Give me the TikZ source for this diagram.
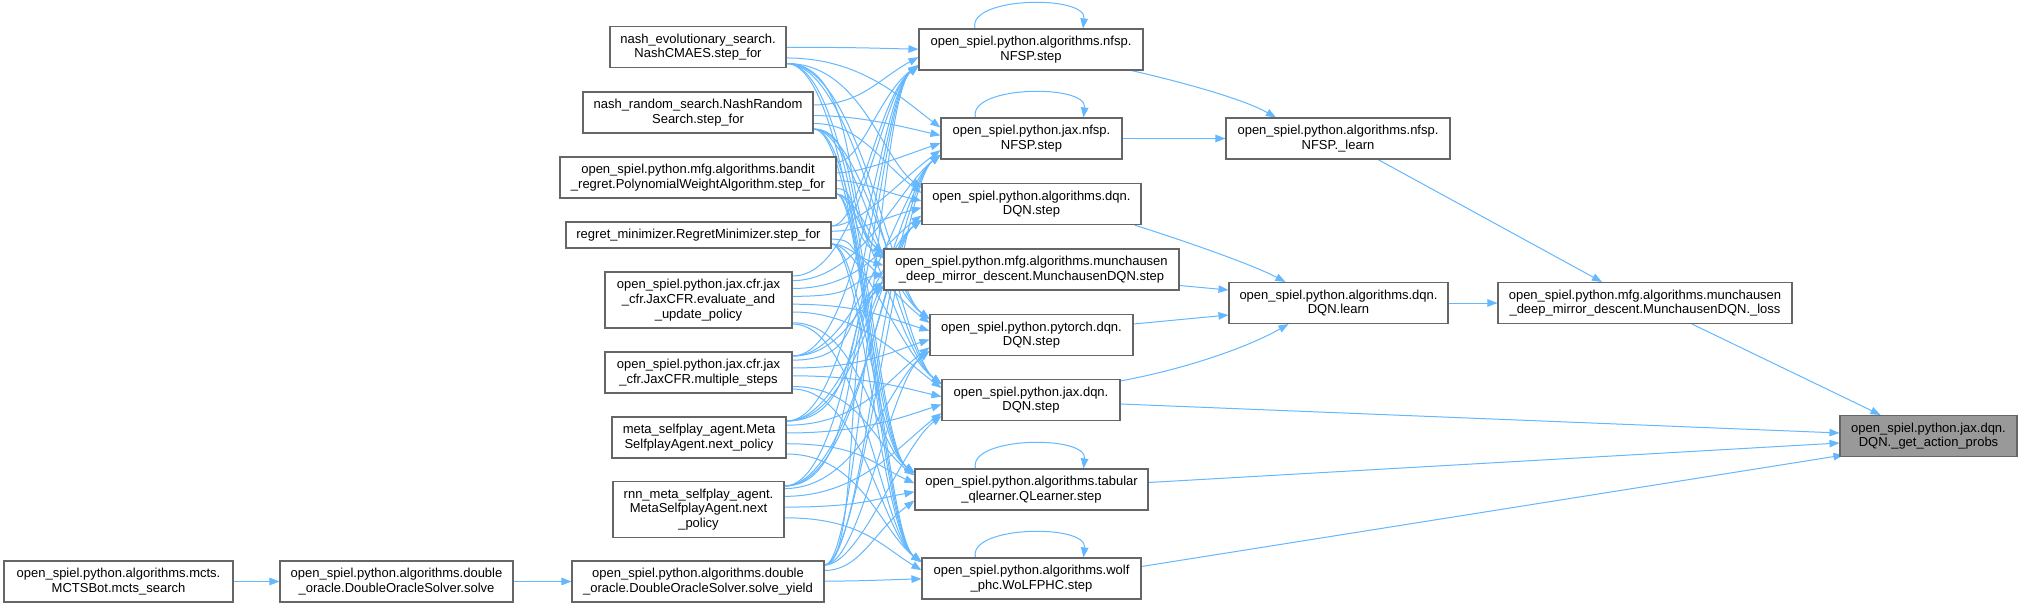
\documentclass[tikz,border=0pt]{standalone}
\usepackage{fontspec}
\setmainfont{Liberation Sans}
\usetikzlibrary{arrows.meta,calc}
\definecolor{edgeblue}{HTML}{63B8FF}
\definecolor{boxgray}{HTML}{666666}
\definecolor{tgfill}{HTML}{999999}
\pgfdeclarelayer{bg}
\pgfdeclarelayer{edgelayer}
\pgfsetlayers{bg,edgelayer,main}
\tikzset{
  fn/.style={rectangle, draw=boxgray, fill=white, line width=1.1pt, align=center,
    font=\fontsize{13}{14.7}\selectfont, inner xsep=2pt, inner ysep=0pt},
  one/.style={minimum height=26pt},
  two/.style={minimum height=41pt},
  three/.style={minimum height=56pt},
  edge/.style={draw=edgeblue, line width=1pt, -{Triangle[length=10pt,width=7.5pt]}},
}
\begin{document}
\begin{tikzpicture}[x=1pt,y=-1pt]
\begin{pgfonlayer}{bg}
\fill[white] (0,0) rectangle (2022,607);
\end{pgfonlayer}
\useasboundingbox (0,0) rectangle (2022,607);
% left column
\node[fn,two,minimum width=176pt] (ne) at (698,47) {nash\_evolutionary\_search.\\NashCMAES.step\_for};
\node[fn,two,minimum width=230pt] (nr) at (698,112.5) {nash\_random\_search.NashRandom\\Search.step\_for};
\node[fn,two,minimum width=276pt] (bd) at (698,177.5) {open\_spiel.python.mfg.algorithms.bandit\\\_regret.PolynomialWeightAlgorithm.step\_for};
\node[fn,one,minimum width=265pt] (rm) at (698.5,235) {regret\_minimizer.RegretMinimizer.step\_for};
\node[fn,three,minimum width=187pt] (ce) at (698.5,300) {open\_spiel.python.jax.cfr.jax\\\_cfr.JaxCFR.evaluate\_and\\\_update\_policy};
\node[fn,two,minimum width=187pt] (cm) at (698.5,372.5) {open\_spiel.python.jax.cfr.jax\\\_cfr.JaxCFR.multiple\_steps};
\node[fn,two,minimum width=174pt] (ms) at (699,437.5) {meta\_selfplay\_agent.Meta\\SelfplayAgent.next\_policy};
\node[fn,three,minimum width=171pt] (rn) at (698.5,509.5) {rnn\_meta\_selfplay\_agent.\\MetaSelfplayAgent.next\\\_policy};
\node[fn,two,minimum width=252pt] (sy) at (698,581.5) {open\_spiel.python.algorithms.double\\\_oracle.DoubleOracleSolver.solve\_yield};
\node[fn,two,minimum width=229pt] (mc) at (118.5,581.5) {open\_spiel.python.algorithms.mcts.\\MCTSBot.mcts\_search};
\node[fn,two,minimum width=233pt] (sv) at (396.5,581.5) {open\_spiel.python.algorithms.double\\\_oracle.DoubleOracleSolver.solve};
% middle column
\node[fn,two,minimum width=224pt] (nf) at (1031,49.5) {open\_spiel.python.algorithms.nfsp.\\NFSP.step};
\node[fn,two,minimum width=181pt] (jn) at (1031.5,138.5) {open\_spiel.python.jax.nfsp.\\NFSP.step};
\node[fn,two,minimum width=219pt] (dq) at (1031.5,204) {open\_spiel.python.algorithms.dqn.\\DQN.step};
\node[fn,two,minimum width=295pt] (md) at (1031.5,269.5) {open\_spiel.python.mfg.algorithms.munchausen\\\_deep\_mirror\_descent.MunchausenDQN.step};
\node[fn,two,minimum width=203pt] (pd) at (1031.5,335) {open\_spiel.python.pytorch.dqn.\\DQN.step};
\node[fn,two,minimum width=178pt] (jd) at (1031,400) {open\_spiel.python.jax.dqn.\\DQN.step};
\node[fn,two,minimum width=233pt] (tb) at (1031.5,489.5) {open\_spiel.python.algorithms.tabular\\\_qlearner.QLearner.step};
\node[fn,two,minimum width=219pt] (wf) at (1031.5,578.5) {open\_spiel.python.algorithms.wolf\\\_phc.WoLFPHC.step};
% right columns
\node[fn,two,minimum width=224pt] (nl) at (1338,138.5) {open\_spiel.python.algorithms.nfsp.\\NFSP.\_learn};
\node[fn,two,minimum width=219pt] (dl) at (1338.5,303) {open\_spiel.python.algorithms.dqn.\\DQN.learn};
\node[fn,two,minimum width=294pt] (lo) at (1645,303) {open\_spiel.python.mfg.algorithms.munchausen\\\_deep\_mirror\_descent.MunchausenDQN.\_loss};
\node[fn,two,minimum width=177pt,fill=tgfill] (tg) at (1928.5,436) {open\_spiel.python.jax.dqn.\\DQN.\_get\_action\_probs};

\begin{pgfonlayer}{edgelayer}
% bipartite callers -> step methods
\foreach \L/\xr/\yl/\hl in {ne/786/47/20.5, nr/813/112.5/20.5, bd/836/177.5/20.5, rm/831/235/13, ce/792/300/28, cm/792/372.5/20.5, ms/786/437.5/20.5, rn/784/509.5/27.5, sy/824/581.5/20.5}{
  \foreach \M/\xl/\ym/\hm in {nf/919/49.5/20.5, jn/941/138.5/20.5, dq/922/204/20, md/884/269.5/20.5, pd/930/335/20, jd/942/400/20, tb/915/489.5/20.5, wf/922/578.5/20.5}{
    \pgfmathsetmacro\ds{max(-\hl+4,min(\hl-4,0.12*(\ym-\yl)))}
    \pgfmathsetmacro\de{max(-\hm+4,min(\hm-4,0.12*(\yl-\ym)))}
    \pgfmathsetmacro\dc{\de+max(-30,min(30,0.35*(\yl-\ym)))}
    \pgfmathsetmacro\cA{max(25,860-\xr)}
    \draw[edge] ($(\L.east)+(0,\ds)$) .. controls ($(\L.east)+(\cA,\ds)$) and ($(\M.west)+(-40,\dc)$) .. ($(\M.west)+(0,\de)$);
  }
}
% self loops
\foreach \X in {nf,jn,tb,wf}{
  \draw[edge] ($(\X.north)+(-56,0)$) .. controls ($(\X.north)+(-64,-32)$) and ($(\X.north)+(56,-34)$) .. ($(\X.north)+(52,0)$);
}
% lower-left chain
\draw[edge] (mc) -- (sv);
\draw[edge] (sv) -- (sy);
% step -> learn
\draw[edge] ($(nf.south east)+(-12,0)$) .. controls (1190,84) and (1245,100) .. ($(nl.north)+(-62,0)$);
\draw[edge] (jn) -- (nl);
\draw[edge] ($(dq.south east)+(-7,0)$) .. controls (1200,246) and (1255,266) .. ($(dl.north)+(-53,0)$);
\draw[edge] ($(md.east)+(0,16)$) -- ($(dl.west)+(0,-13)$);
\draw[edge] ($(pd.east)+(0,-11)$) -- ($(dl.west)+(0,12)$);
\draw[edge] ($(jd.north east)+(0,2)$) .. controls (1190,368) and (1250,346) .. ($(dl.south)+(-50,0)$);
% learn -> loss
\draw[edge] ($(nl.south)+(40,0)$) -- ($(lo.north)+(-43,0)$);
\draw[edge] (dl) -- (lo);
% -> target
\draw[edge] ($(lo.south)+(47,0)$) -- ($(tg.north)+(-48,0)$);
\draw[edge] ($(jd.east)+(0,4)$) -- ($(tg.west)+(0,-3)$);
\draw[edge] ($(tb.east)+(0,-7)$) -- ($(tg.west)+(0,7)$);
\draw[edge] ($(wf.east)+(0,-12)$) -- ($(tg.south west)+(4,-2)$);
\end{pgfonlayer}
\end{tikzpicture}
\end{document}
